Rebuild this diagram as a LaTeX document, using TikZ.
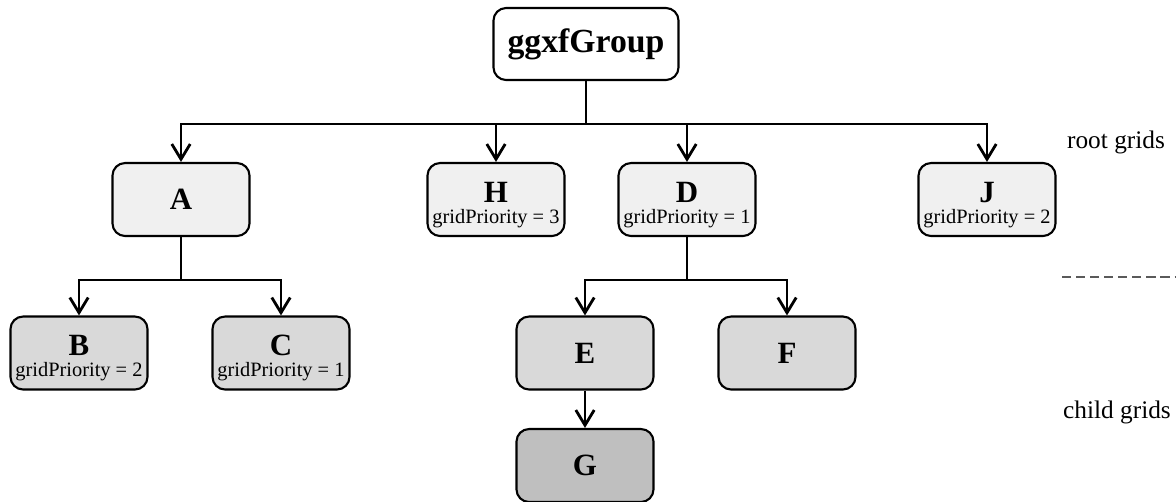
\documentclass[tikz,border=0pt]{standalone}
\usepackage{fontspec}
\setmainfont{Liberation Serif}
\usepackage{xcolor}
\usetikzlibrary{arrows.meta}
\definecolor{rootfill}{HTML}{F0F0F0}
\definecolor{childfill}{HTML}{D9D9D9}
\definecolor{subfill}{HTML}{BFBFBF}
\definecolor{sepgray}{HTML}{5A5A5A}
\tikzset{
      gridbox/.style   = {draw, line width=1.5pt, rounded corners=9pt, inner sep=0pt, align=center,
                          minimum width=3.425cm, minimum height=1.825cm,
                          font=\fontsize{14.5pt}{15pt}\selectfont},
      rootgrid/.style  = {gridbox, fill=rootfill},
      childgrid/.style = {gridbox, fill=childfill},
      subgrid/.style   = {gridbox, fill=subfill},
      groupbox/.style  = {gridbox, fill=white, minimum width=4.625cm, minimum height=1.8cm},
      tree/.style      = {black, line width=2pt},
      treearrow/.style = {tree, -{Straight Barb[length=3.8mm,width=4.6mm]}},
      elbow/.style     = {to path={-| (\tikztotarget)}},
      levelsep/.style  = {sepgray, line width=1.2pt, dash pattern=on 6.5pt off 3.5pt},
      sidelabel/.style = {font=\fontsize{18pt}{20pt}\selectfont},
    }
\newcommand{\gridname}[1]{{\fontsize{22pt}{15pt}\selectfont\bfseries #1}}
\newcommand{\gridprio}[2]{{\fontsize{22pt}{15pt}\selectfont\bfseries\rule{0pt}{22pt}#1}\\
  gridPriority = #2}

\begin{document}
\begin{tikzpicture}[x=0.025cm, y=-0.025cm]
    \useasboundingbox (0,0) rectangle (1176,501);

    \node [groupbox] (grp) at (586,44) {\fontsize{24pt}{24pt}\selectfont\bfseries ggxfGroup};
    \node [rootgrid] (a) at (181,199.5) {\gridname{A}};
    \node [rootgrid] (h) at (496,199.5) {\gridprio{H}{3}};
    \node [rootgrid] (d) at (687,199.5) {\gridprio{D}{1}};
    \node [rootgrid] (j) at (987,199.5) {\gridprio{J}{2}};
    \node [childgrid] (b) at (79,353) {\gridprio{B}{2}};
    \node [childgrid] (c) at (281,353) {\gridprio{C}{1}};
    \node [childgrid] (e) at (585,353) {\gridname{E}};
    \node [childgrid] (f) at (787,353) {\gridname{F}};
    \node [subgrid] (g) at (585,465.5) {\gridname{G}};

    \coordinate (grpjoin) at (586,124);
    \coordinate (ajoin) at (181,280);
    \coordinate (djoin) at (687,280);

    \path (grp) edge[tree] (grpjoin);
    \path (grpjoin) edge[treearrow, elbow] (a);
    \path (grpjoin) edge[treearrow, elbow] (h);
    \path (grpjoin) edge[treearrow, elbow] (d);
    \path (grpjoin) edge[treearrow, elbow] (j);

    \path (a) edge[tree] (ajoin);
    \path (ajoin) edge[treearrow, elbow] (b);
    \path (ajoin) edge[treearrow, elbow] (c);

    \path (d) edge[tree] (djoin);
    \path (djoin) edge[treearrow, elbow] (e);
    \path (djoin) edge[treearrow, elbow] (f);

    \path (e) edge[treearrow] (g);

    % level labels
    \node [sidelabel] (rootlbl) at (1116,142) {root grids};
    \node [sidelabel] (childlbl) at (1117,412) {child grids};
    \coordinate (sepl) at (1062,277);
    \coordinate (sepr) at (1176,277);
    \draw [levelsep] (sepl) -- (sepr);
\end{tikzpicture}
\end{document}
